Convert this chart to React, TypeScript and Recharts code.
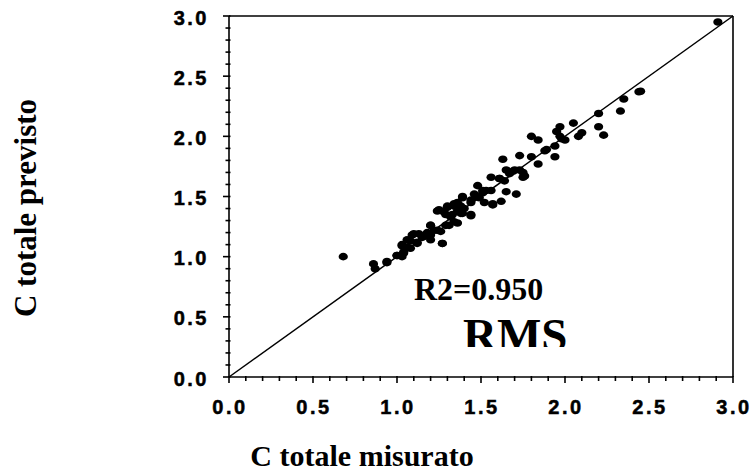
import React from 'react';
import { ScatterChart, Scatter, XAxis, YAxis, ReferenceLine } from 'recharts';

// C totale misurato (x) vs C totale previsto (y)
const measured = [
  2.91, 2.45, 2.44, 2.35, 2.33, 2.2, 2.2, 2.23, 2.05, 2.1, 2.08, 1.97, 1.95, 1.97, 2.0, 1.94,
  1.88, 1.94, 1.8, 1.84, 1.73, 1.8, 1.84, 1.63, 1.65, 1.7, 1.75, 1.67, 1.75, 1.56, 1.61, 1.64,
  1.48, 1.51, 1.46, 1.56, 1.49, 1.65, 1.71, 1.62, 1.57, 1.52, 1.44, 1.39, 1.36, 1.34, 1.3, 1.24,
  1.28, 1.36, 1.4, 1.44, 1.38, 1.32, 1.34, 1.29, 1.2, 1.24, 1.18, 1.2, 1.27, 1.13, 1.09, 1.08,
  1.12, 1.06, 1.03, 1.04, 1.0, 1.03, 0.94, 0.86, 0.87, 0.68, 1.15, 1.22, 1.73, 1.76, 1.61, 1.53,
  1.51, 1.47, 1.57, 1.44, 1.39, 1.34, 1.38, 1.3, 1.25, 1.29, 1.33, 1.39, 1.44, 1.36, 1.31, 1.2,
  1.26, 1.27, 1.1, 1.06, 1.12, 1.03, 1.08, 1.0, 1.04, 0.94, 1.2, 1.16, 1.98, 1.89, 1.69,
];
const predicted = [
  2.95, 2.375, 2.37, 2.31, 2.21, 2.19, 2.08, 2.01, 2.11, 2.03, 2.0, 2.08, 2.04, 2.0, 1.97, 1.92,
  1.88, 1.83, 2.0, 1.97, 1.84, 1.83, 1.77, 1.81, 1.72, 1.72, 1.7, 1.69, 1.66, 1.66, 1.65, 1.63,
  1.59, 1.55, 1.52, 1.55, 1.49, 1.54, 1.52, 1.46, 1.43, 1.45, 1.45, 1.49, 1.45, 1.42, 1.41, 1.38,
  1.37, 1.38, 1.4, 1.34, 1.36, 1.33, 1.29, 1.26, 1.26, 1.22, 1.2, 1.14, 1.11, 1.19, 1.18, 1.13,
  1.11, 1.08, 1.09, 1.04, 1.01, 1.0, 0.95, 0.94, 0.9, 1.0, 1.16, 1.22, 1.72, 1.67, 1.65, 1.55,
  1.53, 1.5, 1.44, 1.47, 1.5, 1.44, 1.42, 1.42, 1.39, 1.35, 1.35, 1.36, 1.35, 1.28, 1.26, 1.26,
  1.21, 1.11, 1.19, 1.14, 1.12, 1.1, 1.07, 1.01, 1.03, 0.96, 1.18, 1.17, 1.98, 1.89, 1.71,
];

const tickValues = [
  0, 0.1, 0.2, 0.3, 0.4, 0.5, 0.6, 0.7, 0.8, 0.9, 1.0, 1.1, 1.2, 1.3, 1.4, 1.5,
  1.6, 1.7, 1.8, 1.9, 2.0, 2.1, 2.2, 2.3, 2.4, 2.5, 2.6, 2.7, 2.8, 2.9, 3.0,
];

const points = measured.map((x, i) => ({ x, y: predicted[i] }));

const isMajor = (v: number) => Math.abs(v * 2 - Math.round(v * 2)) < 1e-6;

const tickFont = {
  fontFamily: 'Liberation Sans, Arial, sans-serif',
  fontWeight: 700,
  fontSize: 20,
  letterSpacing: 2.5,
};

const XTick = (props: any) => {
  const { x, y, payload } = props;
  const major = isMajor(payload.value);
  return (
    <g>
      <line x1={x} x2={x} y1={y - 1} y2={y + (major ? 6 : 4)} stroke="#000" strokeWidth={1.6} />
      {major && (
        <text x={x + 1} y={y + 37} textAnchor="middle" fill="#000" stroke="#000" strokeWidth={0.5} style={tickFont}>
          {payload.value.toFixed(1)}
        </text>
      )}
    </g>
  );
};

const YTick = (props: any) => {
  const { x, y, payload } = props;
  const major = isMajor(payload.value);
  return (
    <g>
      <line x1={x - (major ? 6 : 3.5)} x2={x + 1.5} y1={y} y2={y} stroke="#000" strokeWidth={1.6} />
      {major && (
        <text x={x - 20} y={y + 8.5} textAnchor="end" fill="#000" stroke="#000" strokeWidth={0.5} style={tickFont}>
          {payload.value.toFixed(1)}
        </text>
      )}
    </g>
  );
};

const Dot = (props: any) => <ellipse cx={props.cx} cy={props.cy} rx={4.6} ry={3.8} fill="#000" />;

const serif = { fontFamily: 'Liberation Serif, Times New Roman, serif', fontWeight: 700 };

export default function App() {
  return (
    <div style={{ position: 'absolute', left: 0, top: 0, background: '#fff' }}>
      <ScatterChart width={753} height={473} margin={{ top: 16, right: 20, left: 0, bottom: 0 }}>
        <defs>
          <clipPath id="rmsClip">
            <rect x={0} y={0} width={753} height={347} />
          </clipPath>
        </defs>
        <XAxis
          type="number"
          dataKey="x"
          domain={[0, 3]}
          ticks={tickValues}
          interval={0}
          height={96}
          tickSize={0}
          tickMargin={0}
          tick={<XTick />}
          axisLine={{ stroke: '#000', strokeWidth: 1.6 }}
          allowDataOverflow
        />
        <YAxis
          type="number"
          dataKey="y"
          domain={[0, 3]}
          ticks={tickValues}
          interval={0}
          width={229}
          tickSize={0}
          tickMargin={0}
          tick={<YTick />}
          axisLine={{ stroke: '#000', strokeWidth: 1.6 }}
          allowDataOverflow
        />
        <ReferenceLine y={3} stroke="#000" strokeWidth={1.6} />
        <ReferenceLine x={3} stroke="#000" strokeWidth={1.6} />
        <ReferenceLine
          segment={[{ x: 0, y: 0 }, { x: 3, y: 3 }]}
          stroke="#000"
          strokeWidth={1.5}
        />
        <Scatter data={points} shape={<Dot />} isAnimationActive={false} />
        <text x={414} y={300} fill="#000" style={{ ...serif, fontSize: 32 }}>
          R2=0.950
        </text>
        <text x={463} y={351} fill="#000" clipPath="url(#rmsClip)" style={{ ...serif, fontSize: 47 }}>
          RMS
        </text>
        <text x={362} y={466} textAnchor="middle" fill="#000" style={{ ...serif, fontSize: 30 }}>
          C totale misurato
        </text>
        <text
          x={36}
          y={208}
          textAnchor="middle"
          transform="rotate(-90, 36, 208)"
          fill="#000"
          style={{ ...serif, fontSize: 31 }}
        >
          C totale previsto
        </text>
      </ScatterChart>
    </div>
  );
}
